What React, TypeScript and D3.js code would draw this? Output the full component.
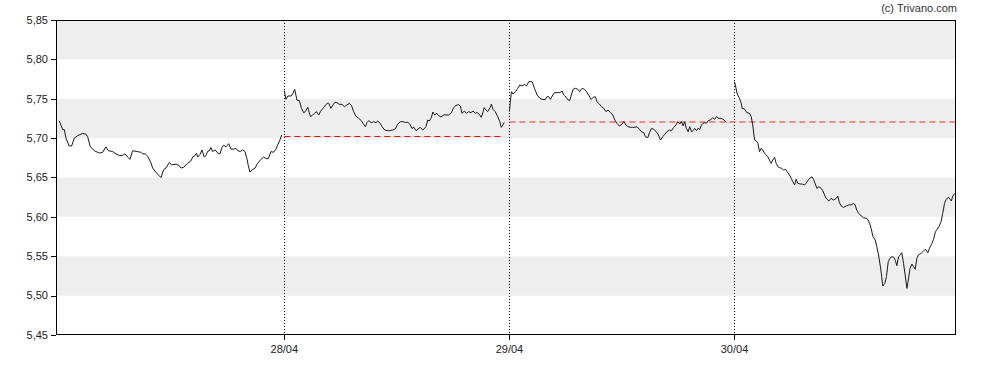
import React from "react";
import * as d3 from "d3";

// ---- data (t = fraction of trading session, v = price) ----
const dayLabels = ["28/04", "29/04", "30/04"];
const dayTicks = [1, 2, 3];
const yTicks = [5.45, 5.5, 5.55, 5.6, 5.65, 5.7, 5.75, 5.8, 5.85];
const bandRanges: [number, number][] = [
  [5.5, 5.55],
  [5.6, 5.65],
  [5.7, 5.75],
  [5.8, 5.85],
];

const day1: [number, number][] = [
  [0.0, 5.722], [0.015, 5.711], [0.022, 5.711], [0.03, 5.7], [0.044, 5.69], [0.055, 5.69],
  [0.067, 5.7], [0.081, 5.703], [0.104, 5.706], [0.119, 5.705], [0.126, 5.702], [0.138, 5.689],
  [0.156, 5.684], [0.178, 5.681], [0.193, 5.682], [0.207, 5.689], [0.218, 5.684], [0.237, 5.683],
  [0.252, 5.68], [0.267, 5.678], [0.281, 5.678], [0.292, 5.68], [0.304, 5.676], [0.314, 5.673],
  [0.326, 5.684], [0.345, 5.683], [0.363, 5.682], [0.37, 5.68], [0.382, 5.68], [0.393, 5.677],
  [0.407, 5.669], [0.415, 5.662], [0.434, 5.655], [0.452, 5.65], [0.464, 5.66], [0.474, 5.662],
  [0.489, 5.669], [0.499, 5.666], [0.519, 5.667], [0.533, 5.665], [0.541, 5.662], [0.553, 5.663],
  [0.57, 5.668], [0.585, 5.671], [0.593, 5.676], [0.603, 5.678], [0.61, 5.681], [0.615, 5.676],
  [0.625, 5.679], [0.634, 5.685], [0.644, 5.676], [0.652, 5.678], [0.659, 5.683], [0.667, 5.684],
  [0.674, 5.688], [0.681, 5.683], [0.693, 5.685], [0.704, 5.681], [0.714, 5.68], [0.723, 5.688],
  [0.73, 5.691], [0.741, 5.689], [0.753, 5.693], [0.763, 5.686], [0.775, 5.686], [0.785, 5.687],
  [0.793, 5.684], [0.804, 5.683], [0.815, 5.685], [0.825, 5.683], [0.833, 5.675], [0.84, 5.665],
  [0.847, 5.657], [0.859, 5.66], [0.87, 5.662], [0.881, 5.668], [0.896, 5.673], [0.908, 5.676],
  [0.919, 5.674], [0.929, 5.674], [0.941, 5.683], [0.951, 5.682], [0.963, 5.686], [0.97, 5.691],
  [0.981, 5.698], [0.988, 5.704],
];

const day2: [number, number][] = [
  [0.0, 5.7603], [0.007, 5.7492], [0.016, 5.7535], [0.031, 5.7535], [0.037, 5.756], [0.046, 5.762],
  [0.056, 5.7484], [0.067, 5.7476], [0.076, 5.7378], [0.086, 5.7323], [0.093, 5.7336], [0.104, 5.7391],
  [0.116, 5.7273], [0.126, 5.7294], [0.135, 5.7315], [0.142, 5.7336], [0.153, 5.7294], [0.16, 5.7336],
  [0.175, 5.7391], [0.19, 5.7442], [0.197, 5.7442], [0.207, 5.7378], [0.216, 5.7421], [0.224, 5.7454],
  [0.234, 5.745], [0.244, 5.7429], [0.256, 5.7429], [0.267, 5.7399], [0.275, 5.7416], [0.289, 5.7442],
  [0.298, 5.7416], [0.308, 5.7336], [0.318, 5.7281], [0.33, 5.7251], [0.342, 5.7222], [0.352, 5.7175],
  [0.36, 5.7145], [0.367, 5.7196], [0.375, 5.7222], [0.386, 5.7196], [0.397, 5.7209], [0.407, 5.7196],
  [0.415, 5.7217], [0.426, 5.7188], [0.434, 5.7145], [0.446, 5.7103], [0.456, 5.7095], [0.468, 5.7095],
  [0.481, 5.7103], [0.493, 5.7116], [0.503, 5.7175], [0.515, 5.7209], [0.526, 5.7209], [0.538, 5.72],
  [0.549, 5.72], [0.557, 5.7179], [0.567, 5.7124], [0.576, 5.7137], [0.585, 5.7095], [0.594, 5.7116],
  [0.604, 5.7137], [0.615, 5.7103], [0.622, 5.712], [0.629, 5.7145], [0.637, 5.723], [0.644, 5.7217],
  [0.653, 5.726], [0.66, 5.7332], [0.668, 5.7294], [0.677, 5.7315], [0.686, 5.7285], [0.696, 5.7268],
  [0.708, 5.7294], [0.718, 5.7294], [0.73, 5.7294], [0.742, 5.7323], [0.752, 5.7387], [0.763, 5.7416],
  [0.774, 5.7425], [0.782, 5.7408], [0.789, 5.7315], [0.8, 5.7344], [0.809, 5.7315], [0.819, 5.7336],
  [0.829, 5.7323], [0.838, 5.7344], [0.849, 5.7315], [0.857, 5.7327], [0.868, 5.7294], [0.875, 5.7264],
  [0.883, 5.7336], [0.888, 5.7387], [0.896, 5.7357], [0.903, 5.7336], [0.915, 5.7391], [0.92, 5.7433],
  [0.927, 5.7366], [0.937, 5.7336], [0.948, 5.7273], [0.957, 5.7209], [0.964, 5.7137], [0.971, 5.7167],
  [0.977, 5.72],
];

const day3: [number, number][] = [
  [0.0, 5.7336], [0.004, 5.7463], [0.009, 5.759], [0.016, 5.756], [0.027, 5.759], [0.037, 5.7632],
  [0.046, 5.7675], [0.056, 5.7662], [0.067, 5.7683], [0.076, 5.7662], [0.086, 5.7717], [0.101, 5.7717],
  [0.111, 5.7632], [0.123, 5.7548], [0.135, 5.7505], [0.145, 5.7492], [0.16, 5.7492], [0.167, 5.7526],
  [0.175, 5.7526], [0.182, 5.7492], [0.193, 5.7548], [0.2, 5.7577], [0.212, 5.7577], [0.224, 5.7577],
  [0.234, 5.7598], [0.241, 5.7548], [0.252, 5.7518], [0.261, 5.7484], [0.268, 5.7476], [0.275, 5.7548],
  [0.283, 5.762], [0.293, 5.7632], [0.304, 5.762], [0.312, 5.759], [0.323, 5.7632], [0.333, 5.762],
  [0.342, 5.759], [0.352, 5.7548], [0.363, 5.7492], [0.372, 5.7518], [0.382, 5.7526], [0.389, 5.7463],
  [0.4, 5.7433], [0.409, 5.7399], [0.419, 5.7378], [0.429, 5.7336], [0.438, 5.7357], [0.449, 5.7323],
  [0.459, 5.7294], [0.468, 5.723], [0.478, 5.7188], [0.489, 5.7154], [0.501, 5.7179], [0.508, 5.7209],
  [0.518, 5.7167], [0.527, 5.7145], [0.538, 5.7137], [0.548, 5.7137], [0.557, 5.7137], [0.567, 5.7145],
  [0.578, 5.7112], [0.586, 5.7082], [0.597, 5.7069], [0.604, 5.7018], [0.615, 5.7006], [0.622, 5.7069],
  [0.631, 5.7124], [0.641, 5.7112], [0.652, 5.7082], [0.66, 5.7052], [0.671, 5.6976], [0.681, 5.7018],
  [0.69, 5.7048], [0.7, 5.7082], [0.711, 5.7103], [0.72, 5.7095], [0.73, 5.7137], [0.74, 5.7167],
  [0.748, 5.7209], [0.757, 5.7179], [0.764, 5.7209], [0.772, 5.7154], [0.779, 5.7209], [0.786, 5.7124],
  [0.794, 5.7082], [0.801, 5.7145], [0.809, 5.7082], [0.816, 5.7095], [0.823, 5.7124], [0.831, 5.7095],
  [0.838, 5.7124], [0.846, 5.7112], [0.853, 5.7167], [0.86, 5.7188], [0.868, 5.7196], [0.875, 5.7188],
  [0.883, 5.7222], [0.893, 5.723], [0.903, 5.726], [0.912, 5.7239], [0.92, 5.7273], [0.93, 5.7251],
  [0.94, 5.7251], [0.949, 5.7239], [0.957, 5.7222], [0.964, 5.72],
];

const day4: [number, number][] = [
  [0.0, 5.7717], [0.007, 5.7632], [0.012, 5.756], [0.022, 5.7505], [0.03, 5.7442], [0.034, 5.7378],
  [0.044, 5.737], [0.055, 5.7323], [0.067, 5.7315], [0.074, 5.7273], [0.081, 5.7167], [0.089, 5.6976],
  [0.096, 5.6968], [0.104, 5.6934], [0.111, 5.6828], [0.118, 5.687], [0.126, 5.6849], [0.133, 5.6807],
  [0.141, 5.6786], [0.148, 5.6764], [0.155, 5.6722], [0.163, 5.668], [0.17, 5.6722], [0.178, 5.6756],
  [0.185, 5.668], [0.193, 5.6637], [0.2, 5.6625], [0.21, 5.6616], [0.218, 5.6595], [0.227, 5.6604],
  [0.234, 5.6574], [0.244, 5.6532], [0.252, 5.6489], [0.259, 5.6447], [0.267, 5.6405], [0.274, 5.6477],
  [0.281, 5.6426], [0.292, 5.6417], [0.301, 5.6417], [0.311, 5.6405], [0.318, 5.6426], [0.33, 5.6477],
  [0.344, 5.651], [0.351, 5.6477], [0.358, 5.6426], [0.366, 5.6362], [0.375, 5.6383], [0.385, 5.6362],
  [0.392, 5.6333], [0.4, 5.6278], [0.407, 5.6235], [0.419, 5.6201], [0.429, 5.6235], [0.44, 5.6214],
  [0.452, 5.6235], [0.459, 5.6265], [0.466, 5.618], [0.474, 5.6138], [0.484, 5.6121], [0.496, 5.6138],
  [0.506, 5.6151], [0.518, 5.6151], [0.529, 5.6172], [0.536, 5.6151], [0.543, 5.6087], [0.552, 5.6045],
  [0.563, 5.6011], [0.573, 5.599], [0.585, 5.5981], [0.592, 5.5969], [0.6, 5.5918], [0.607, 5.5854],
  [0.615, 5.5749], [0.625, 5.5706], [0.632, 5.5622], [0.64, 5.5516], [0.647, 5.5389], [0.653, 5.5262],
  [0.659, 5.5122], [0.668, 5.5156], [0.675, 5.5241], [0.683, 5.5431], [0.69, 5.5473], [0.699, 5.5495],
  [0.708, 5.5486], [0.715, 5.5444], [0.721, 5.538], [0.729, 5.5495], [0.737, 5.5516], [0.743, 5.5545],
  [0.751, 5.541], [0.758, 5.5262], [0.766, 5.5092], [0.772, 5.5198], [0.78, 5.5346], [0.788, 5.5401],
  [0.795, 5.5368], [0.803, 5.5334], [0.81, 5.5473], [0.817, 5.5516], [0.829, 5.5537], [0.837, 5.5558],
  [0.847, 5.5588], [0.851, 5.5579], [0.859, 5.5545], [0.866, 5.56], [0.877, 5.5664], [0.884, 5.5715],
  [0.893, 5.5812], [0.9, 5.5842], [0.908, 5.5876], [0.918, 5.5939], [0.925, 5.6045], [0.933, 5.6172],
  [0.94, 5.6223], [0.951, 5.6248], [0.958, 5.6223], [0.963, 5.6201], [0.97, 5.6265], [0.977, 5.629],
  [0.985, 5.6307],
];

const sessions = [day1, day2, day3, day4];
// reference (previous close) lines: [fromDay, toDay, value]
const refLines: [number, number, number][] = [
  [1, 1.975, 5.703],
  [2, 3.984, 5.72],
];

export default function App() {
  const W = 988;
  const H = 370;
  const m = { left: 56, right: 32, top: 20, bottom: 35 };
  const x = d3.scaleLinear().domain([-0.0144, 3.984]).range([m.left, W - m.right]);
  const y = d3.scaleLinear().domain([5.45, 5.85]).range([H - m.bottom, m.top]);
  const line = d3
    .line<[number, number]>()
    .x((d) => x(d[0]))
    .y((d) => y(d[1]));
  const fmt = (v: number) => d3.format(".2f")(v).replace(".", ",");
  const font = "'Liberation Sans', Arial, sans-serif";
  const x0 = m.left;
  const x1 = W - m.right;
  const yb = H - m.bottom;

  return (
    <svg
      width={W}
      height={H}
      style={{ position: "absolute", left: 0, top: 0, background: "#fff" }}
      fontFamily={font}
    >
      <defs>
        <clipPath id="plot">
          <rect x={x0} y={m.top} width={x1 - x0} height={yb - m.top} />
        </clipPath>
      </defs>
      {bandRanges.map(([a, b], i) => (
        <rect key={i} x={x0} y={y(b)} width={x1 - x0} height={y(a) - y(b)} fill="#eeeeee" />
      ))}
      {dayTicks.map((d, i) => (
        <line
          key={i}
          x1={Math.floor(x(d)) + 0.5}
          x2={Math.floor(x(d)) + 0.5}
          y1={m.top}
          y2={yb}
          stroke="#000"
          strokeWidth={1}
          strokeDasharray="1,2"
        />
      ))}
      {refLines.map(([a, b, v], i) => (
        <line
          key={i}
          x1={x(a)}
          x2={x(b)}
          y1={i === 0 ? Math.round(y(v)) + 0.5 : Math.round(y(v))}
          y2={i === 0 ? Math.round(y(v)) + 0.5 : Math.round(y(v))}
          stroke="#ff0000"
          strokeOpacity={i === 0 ? 1 : 0.85}
          strokeWidth={1}
          strokeDasharray="6,4"
        />
      ))}
      <g clipPath="url(#plot)">
        {sessions.map((s, i) => (
          <path
            key={i}
            d={line(s.map((p) => [p[0] + i, p[1]] as [number, number])) || ""}
            fill="none"
            stroke="#1a1a1a"
            strokeWidth={1}
            strokeLinejoin="round"
          />
        ))}
      </g>
      {/* frame */}
      <rect x={x0 + 0.5} y={m.top + 0.5} width={x1 - x0 - 1} height={yb - m.top - 1} fill="none" stroke="#000" strokeWidth={1} />
      {yTicks.map((t, i) => (
        <g key={i}>
          <line x1={x0 - 5} x2={x0} y1={Math.round(y(t)) + 0.5} y2={Math.round(y(t)) + 0.5} stroke="#000" />
          <text x={x0 - 8} y={y(t)} dy="0.35em" textAnchor="end" fontSize={11} fill="#222">
            {fmt(t)}
          </text>
        </g>
      ))}
      {dayTicks.map((d, i) => (
        <g key={i}>
          <line x1={Math.floor(x(d)) + 0.5} x2={Math.floor(x(d)) + 0.5} y1={yb} y2={yb + 5} stroke="#000" />
          <text x={x(d)} y={yb + 18} textAnchor="middle" fontSize={11} fill="#222">
            {dayLabels[i]}
          </text>
        </g>
      ))}
      <text x={957} y={12} textAnchor="end" fontSize={11} fill="#333">
        (c) Trivano.com
      </text>
    </svg>
  );
}
